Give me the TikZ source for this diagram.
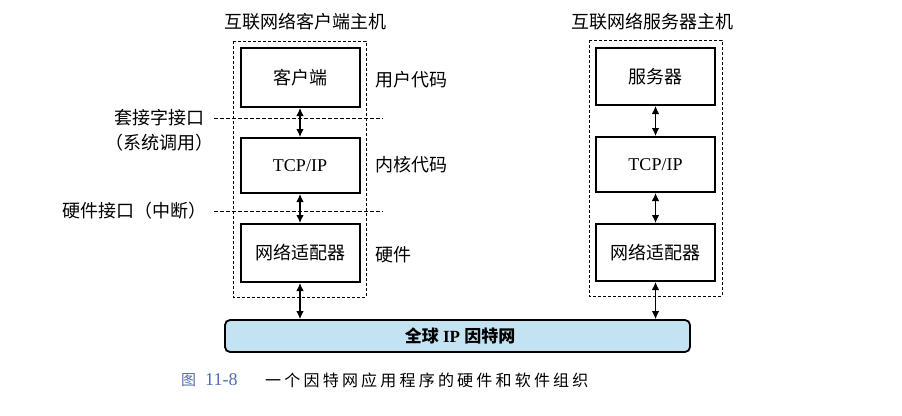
\documentclass[tikz,border=0pt]{standalone}
\usepackage{fontspec}
\setmainfont{Liberation Serif}
\newfontfamily\cjk{Noto Sans CJK SC}
\newfontfamily\cjkcap[LetterSpace=20]{Noto Sans CJK SC}
\usetikzlibrary{arrows.meta}
\definecolor{netblue}{RGB}{196,227,242}
\definecolor{capblue}{RGB}{80,110,170}
\tikzset{
  boxnode/.style={draw, line width=2pt, minimum width=119pt, inner sep=0pt, font=\fontsize{18}{21}\selectfont},
  hostbox/.style={draw, line width=0.8pt, dash pattern=on 3pt off 2pt},
  lbl/.style={inner sep=0pt, font=\fontsize{18}{21}\selectfont\cjk},
  ifline/.style={line width=0.9pt, dash pattern=on 3.5pt off 2.5pt},
  link/.style={line width=1.1pt, {Latex[length=8pt,width=7.5pt]}-{Latex[length=8pt,width=7.5pt]}}
}
\begin{document}
\begin{tikzpicture}[x=1pt,y=-1pt]
\useasboundingbox[fill=white] (0,0) rectangle (902,415);
% titles
\node[lbl] (titleL) at (305.5,22) {互联网络客户端主机};
\node[lbl] (titleR) at (652.5,22) {互联网络服务器主机};
% host boxes
\draw[hostbox] (233,41) rectangle (366,297);
\draw[hostbox] (589,40) rectangle (722,296);
% left stack
\node[boxnode, minimum height=59pt] (client) at (300,77.5) {\cjk 客户端};
\node[boxnode, minimum height=55pt] (tcpL) at (300,165.5) {TCP/IP};
\node[boxnode, minimum height=58pt] (adL) at (300,253) {\cjk 网络适配器};
% right stack
\node[boxnode, minimum height=57pt] (server) at (655.5,76.5) {\cjk 服务器};
\node[boxnode, minimum height=55pt] (tcpR) at (655.5,164.5) {TCP/IP};
\node[boxnode, minimum height=57pt] (adR) at (655.5,252.5) {\cjk 网络适配器};
% network
\node[draw, line width=1.8pt, rounded corners=5pt, fill=netblue, minimum width=465pt, minimum height=32pt, inner sep=0pt] (net) at (457.5,336) {};
\node[inner sep=0pt, font=\fontsize{17}{20}\selectfont\bfseries] (nettext) at (460,336) {{\cjk 全球} IP {\cjk 因特网}};
% arrows
\draw[link] (client.south) -- (tcpL.north);
\draw[link] (tcpL.south) -- (adL.north);
\draw[link] (adL.south) -- (adL.south |- net.north);
\draw[link] (server.south) -- (tcpR.north);
\draw[link] (tcpR.south) -- (adR.north);
\draw[link] (adR.south) -- (adR.south |- net.north);
% side labels
\node[lbl, anchor=west] (user) at (375,80) {用户代码};
\node[lbl, anchor=west] (kernel) at (375,165) {内核代码};
\node[lbl, anchor=west] (hw) at (375,255) {硬件};
% interface labels
\node[lbl] (sockA) at (159.5,118) {套接字接口};
\node[lbl] (sockB) at (159.5,143) {\kern-6pt（系统调用）\kern-6pt};
\node[lbl, anchor=east] (hwif) at (207,211) {硬件接口（中断）};
\coordinate (s1) at (214,118);
\coordinate (s2) at (383,118);
\coordinate (h1) at (214,211);
\coordinate (h2) at (383,211);
\draw[ifline] (s1) -- (s2);
\draw[ifline] (h1) -- (h2);
% caption
\node[inner sep=0pt, anchor=west, text=capblue, font=\fontsize{15}{18}\selectfont\cjk] (capfig) at (181,380) {图};
\node[inner sep=0pt, anchor=west, text=capblue, font=\fontsize{18}{21}\selectfont] (capnum) at (205,380) {11-8};
\node[inner sep=0pt, anchor=west, font=\fontsize{16}{19}\selectfont\cjkcap] (captext) at (265,380) {一个因特网应用程序的硬件和软件组织};
\end{tikzpicture}
\end{document}
